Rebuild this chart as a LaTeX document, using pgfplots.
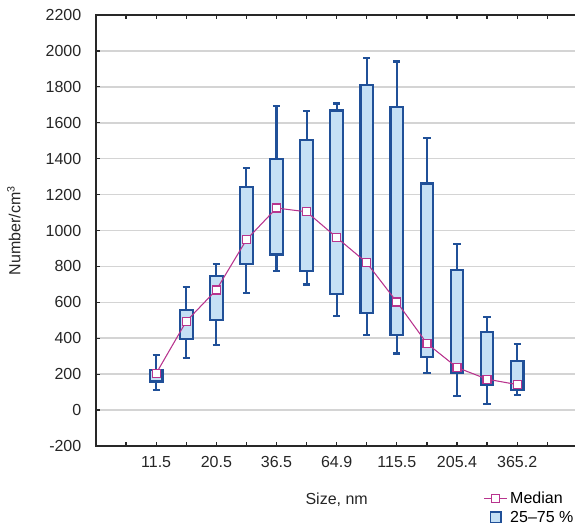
\documentclass[border=0pt]{standalone}
\usepackage{pgfplots}
\pgfplotsset{compat=1.18}
\usepackage{fontspec}
\setmainfont{Liberation Sans}
\definecolor{boxfill}{RGB}{197,224,245}
\definecolor{boxedge}{RGB}{32,80,152}
\definecolor{medline}{RGB}{184,52,142}
\definecolor{gridc}{RGB}{212,212,212}
\definecolor{axc}{RGB}{40,40,40}
\newcommand{\bp}[6]{%
\pgfmathsetmacro{\bxl}{#1-0.21}\pgfmathsetmacro{\bxr}{#1+0.21}%
\pgfmathsetmacro{\bcl}{#1-0.12}\pgfmathsetmacro{\bcr}{#1+0.12}%
\addplot[forget plot, draw=boxedge, line width=1.6pt] coordinates {(#1,#2) (#1,#6)};
\addplot[forget plot, draw=boxedge, line width=1.6pt] coordinates {(\bcl,#2) (\bcr,#2)};
\addplot[forget plot, draw=boxedge, line width=1.6pt] coordinates {(\bcl,#6) (\bcr,#6)};
\addplot[forget plot, draw=boxedge, fill=boxfill, line width=1.6pt, line join=miter]
  coordinates {(\bxl,#3) (\bxr,#3) (\bxr,#5) (\bxl,#5)} -- cycle;
}
\begin{document}
\begin{tikzpicture}
\begin{axis}[
  at={(0,0)}, anchor=south west,
  scale only axis, width=361pt, height=323.25pt,
  xmin=-2, xmax=14, ymin=-200, ymax=2200,
  xtick={-1,...,13},
  xticklabels={,11.5,,20.5,,36.5,,64.9,,115.5,,205.4,,365.2,},
  ytick={-200,0,...,2200},
  tick align=inside, xtick pos=both, ytick pos=left,
  major tick length=3pt,
  tick style={axc, line width=0.9pt},
  axis line style={axc, line width=1.2pt},
  ymajorgrids, grid style={gridc, line width=1.2pt},
  /pgf/number format/assume math mode=true,
  /pgf/number format/1000 sep={},
  ticklabel style={font=\fontsize{12}{14}\selectfont, text=black!85},
  yticklabel style={xshift=-7.5pt},
  xticklabel style={yshift=-4.5pt},
  xlabel={Size, nm}, ylabel={Number/cm\textsuperscript{3}},
  label style={font=\fontsize{12}{14}\selectfont, text=black!85},
  xlabel style={yshift=-12pt},
  ylabel style={yshift=12pt},
  legend style={at={(axis description cs:0.805,-0.10)}, anchor=north west,
    draw=none, fill=none, font=\fontsize{12}{14}\selectfont, inner sep=0pt},
  legend cell align=left,
  clip=false,
]
\bp{0}{114}{159}{204}{222}{308}
\bp{1}{289}{395}{494}{559}{687}
\bp{2}{362}{503}{669}{745}{812}
\bp{3}{650}{814}{948}{1242}{1346}
\bp{4}{775}{866}{1125}{1400}{1694}
\bp{5}{699}{773}{1104}{1502}{1664}
\bp{6}{524}{645}{961}{1668}{1707}
\bp{7}{418}{539}{820}{1811}{1960}
\bp{8}{315}{420}{602}{1688}{1941}
\bp{9}{207}{297}{371}{1262}{1517}
\bp{10}{79}{207}{237}{782}{927}
\bp{11}{36}{139}{172}{436}{520}
\bp{12}{86}{111}{142}{273}{366}
\addplot[medline, line width=0.8pt, mark=square*, mark size=3pt,
  mark options={fill=white, draw=medline, line width=0.9pt}]
  coordinates {(0,204) (1,494) (2,669) (3,948) (4,1125) (5,1104) (6,961)
  (7,820) (8,602) (9,371) (10,237) (11,172) (12,142)};
\addlegendentry{Median}
\addlegendimage{legend image code/.code={\draw[draw=boxedge, fill=boxfill, line width=1.2pt] (0.16cm,-0.14cm) rectangle (0.44cm,0.14cm);}}
\addlegendentry{25--75~\%}
\end{axis}
\pgfresetboundingbox
\path[use as bounding box] (-72pt,-57.75pt) rectangle (359.25pt,334.5pt);
\end{tikzpicture}
\end{document}
